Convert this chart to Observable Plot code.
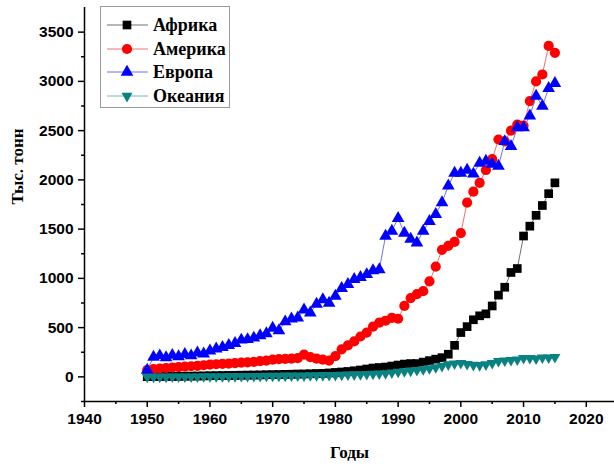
<!DOCTYPE html>
<html>
<head>
<meta charset="utf-8">
<script src="https://cdn.jsdelivr.net/npm/d3@7"></script>
<script src="https://cdn.jsdelivr.net/npm/@observablehq/plot@0.6"></script>
<style>
  html, body { margin: 0; padding: 0; background: #fff; }
  #wrap { position: relative; width: 614px; height: 467px; }
  #legend { position: absolute; left: 100px; top: 6px; width: 130px; height: 102px;
            border: 1px solid #9a9a9a; background: #fff; box-sizing: border-box; }
  .lrow { position: absolute; left: 6px; height: 20px; display: flex; align-items: center; }
  .lrow span { margin-left: 4px; font-family: "Liberation Serif", "Times New Roman", serif;
               font-weight: bold; font-size: 18px; line-height: 20px; color: #000; }
</style>
</head>
<body>
<div id="wrap"><div id="chart"></div><div id="legend"></div></div>
<script>
// ---- data ----
const years = [
  1950,1951,1952,1953,1954,1955,1956,1957,1958,1959,
  1960,1961,1962,1963,1964,1965,1966,1967,1968,1969,
  1970,1971,1972,1973,1974,1975,1976,1977,1978,1979,
  1980,1981,1982,1983,1984,1985,1986,1987,1988,1989,
  1990,1991,1992,1993,1994,1995,1996,1997,1998,1999,
  2000,2001,2002,2003,2004,2005,2006,2007,2008,2009,
  2010,2011,2012,2013,2014,2015];

const africa = [
  2,3,4,5,5,6,7,8,9,10,
  12,13,14,15,16,17,18,19,20,22,
  23,24,26,27,29,30,32,34,36,40,
  45,50,55,62,70,80,90,95,100,110,
  120,130,135,135,150,165,180,195,230,320,
  450,510,580,620,640,720,830,910,1060,1100,
  1430,1530,1640,1740,1860,1970];

const america = [
  70,80,85,90,95,100,105,108,112,118,
  125,128,132,135,140,145,148,152,160,165,
  175,180,182,185,190,225,200,185,175,165,
  210,280,320,360,410,450,510,550,570,600,
  590,720,800,840,870,970,1120,1290,1330,1370,
  1460,1770,1880,1970,2100,2210,2410,2390,2500,2560,
  2550,2800,3000,3070,3360,3290];

const europe = [
  70,200,215,195,220,205,230,215,245,235,
  265,285,300,320,340,375,380,395,420,440,
  495,470,560,590,600,680,650,740,785,750,
  820,900,940,990,1010,1040,1080,1090,1430,1480,
  1610,1460,1400,1360,1480,1580,1650,1770,1940,2070,
  2070,2100,2060,2170,2190,2160,2140,2390,2340,2530,
  2530,2650,2850,2750,2930,2980];

const oceania = [
  0,0,1,1,2,2,2,3,3,4,
  4,5,5,6,6,7,7,8,8,9,
  10,10,11,12,12,13,14,15,16,17,
  18,20,22,24,26,28,30,32,36,42,
  50,55,62,68,76,86,96,110,125,135,
  140,130,120,118,125,140,160,165,170,175,
  190,190,185,195,195,200];

const seriesNames  = ["Африка", "Америка", "Европа", "Океания"];
const seriesValues = [africa, america, europe, oceania];
const markerColors = ["#000000", "#ff0000", "#0000ff", "#0a8282"];
const lineColors   = ["#707070", "#f07070", "#7070f0", "#70b8b8"];
const markerShapes = ["square", "circle", "triangle", "triangle"];
const markerRotate = [0, 0, 0, 180];
const markerR      = [4.9, 5.1, 4.7, 4.1];

const xDomain = [1940, 2024.5];
const yDomain = [-250, 3750];
const xTicks  = [1940, 1950, 1960, 1970, 1980, 1990, 2000, 2010, 2020];
const xMinor  = [1945, 1955, 1965, 1975, 1985, 1995, 2005, 2015];
const yTicks  = [0, 500, 1000, 1500, 2000, 2500, 3000, 3500];
const yMinor  = [-250, 250, 750, 1250, 1750, 2250, 2750, 3250];
const xLabel  = "Годы";
const yLabel  = "Тыс. тонн";

// ---- table ----
const rows = [];
seriesNames.forEach((name, i) => {
  years.forEach((yr, j) => rows.push({series: name, year: yr, value: seriesValues[i][j]}));
});

const tickFont = "Liberation Sans, Arial, sans-serif";
const labelFont = "Liberation Serif, Times New Roman, serif";

const marks = [
  Plot.axisY({ticks: yTicks, tickSize: 6, tickPadding: 5, tickFormat: d => String(d),
    fontSize: 15.5, fontWeight: "bold", fontFamily: tickFont, label: null, strokeWidth: 1.5}),
  Plot.axisY({ticks: yMinor, tickSize: 3, tickFormat: () => "", label: null, strokeWidth: 1.5}),
  Plot.axisX({ticks: xTicks, tickSize: 6, tickPadding: 5, tickFormat: d => String(d),
    fontSize: 15.5, fontWeight: "bold", fontFamily: tickFont, label: null, strokeWidth: 1.5}),
  Plot.axisX({ticks: xMinor, tickSize: 3, tickFormat: () => "", label: null, strokeWidth: 1.5}),
  Plot.ruleX([xDomain[0]], {stroke: "#000", strokeWidth: 1.5}),
  Plot.ruleY([yDomain[0]], {stroke: "#000", strokeWidth: 1.5}),
  Plot.text([xLabel], {frameAnchor: "bottom", dy: 56, fontFamily: labelFont, fontWeight: "bold", fontSize: 17, fill: "#000"}),
  Plot.text([yLabel], {frameAnchor: "left", dx: -67, rotate: -90, fontFamily: labelFont, fontWeight: "bold", fontSize: 17, fill: "#000"})
];

seriesNames.forEach((name, i) => {
  const data = rows.filter(d => d.series === name);
  marks.push(Plot.line(data, {x: "year", y: "value", stroke: lineColors[i], strokeWidth: 1}));
  marks.push(Plot.dot(data, {x: "year", y: "value", symbol: markerShapes[i], r: markerR[i],
    rotate: markerRotate[i], fill: markerColors[i], stroke: "none"}));
});

const chart = Plot.plot({
  width: 614, height: 467,
  marginLeft: 84, marginRight: 0, marginTop: 7, marginBottom: 66,
  x: {domain: xDomain},
  y: {domain: yDomain},
  style: {background: "transparent", overflow: "visible"},
  marks
});
document.getElementById("chart").appendChild(chart);

// ---- legend ----
const legend = d3.select("#legend");
seriesNames.forEach((name, i) => {
  const row = legend.append("div").attr("class", "lrow").style("top", (8 + 23.5 * i) + "px");
  const svg = row.append("svg").attr("width", 42).attr("height", 20);
  svg.append("line").attr("x1", 0).attr("x2", 41).attr("y1", 10).attr("y2", 10)
    .attr("stroke", lineColors[i]).attr("stroke-width", 1);
  const sym = {square: d3.symbolSquare, circle: d3.symbolCircle, triangle: d3.symbolTriangle}[markerShapes[i]];
  svg.append("path")
    .attr("d", d3.symbol(sym, Math.PI * markerR[i] * markerR[i])())
    .attr("transform", `translate(20,10) rotate(${markerRotate[i]})`)
    .attr("fill", markerColors[i]);
  row.append("span").text(name);
});
</script>
</body>
</html>
